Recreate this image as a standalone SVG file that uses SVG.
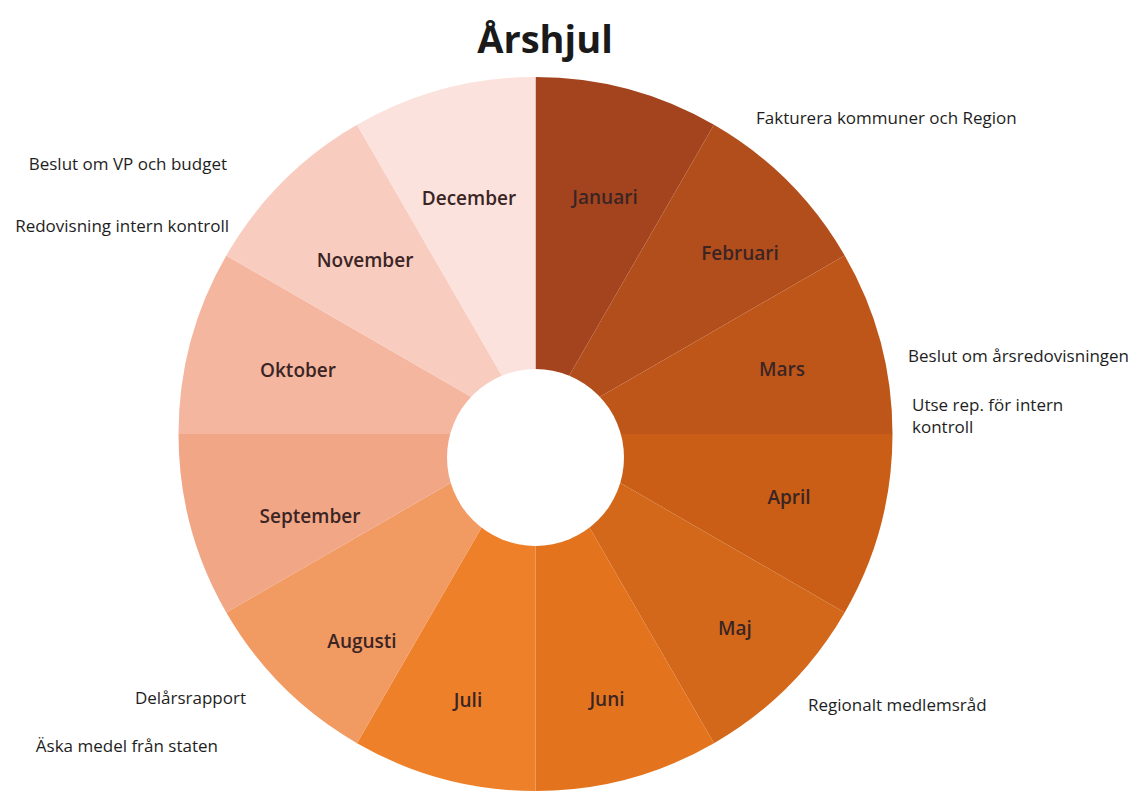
<svg xmlns="http://www.w3.org/2000/svg" width="1138" height="796" viewBox="0 0 1138 796">
<style>
.m{font-family:"Open Sans","Liberation Sans",sans-serif;font-weight:600;font-size:19px;fill:#3b2524;text-anchor:middle;dominant-baseline:central}
.n{font-family:"Open Sans","Liberation Sans",sans-serif;font-size:17px;fill:#1e1e1e;dominant-baseline:central}
.r{text-anchor:end}
.t{font-family:"Open Sans","Liberation Sans",sans-serif;font-weight:700;font-size:38px;fill:#1a1a1a;text-anchor:middle}
</style>
<rect width="1138" height="796" fill="#ffffff"/>
<text class="t" x="545" y="53">Årshjul</text>
<g id="wheel">
<g id="januari"><path d="M535.5 434 L535.5 77 A357 357 0 0 1 714 124.8 Z" fill="#A4441F"/><text class="m" x="605" y="197">Januari</text></g>
<g id="februari"><path d="M535.5 434 L714 124.8 A357 357 0 0 1 844.7 255.5 Z" fill="#B24D1C"/><text class="m" x="740" y="253">Februari</text></g>
<g id="mars"><path d="M535.5 434 L844.7 255.5 A357 357 0 0 1 892.5 434 Z" fill="#BF5619"/><text class="m" x="782" y="369">Mars</text></g>
<g id="april"><path d="M535.5 434 L892.5 434 A357 357 0 0 1 844.7 612.5 Z" fill="#CA5E16"/><text class="m" x="789" y="497">April</text></g>
<g id="maj"><path d="M535.5 434 L844.7 612.5 A357 357 0 0 1 714 743.2 Z" fill="#D3681B"/><text class="m" x="735" y="628">Maj</text></g>
<g id="juni"><path d="M535.5 434 L714 743.2 A357 357 0 0 1 535.5 791 Z" fill="#E3731D"/><text class="m" x="607" y="699">Juni</text></g>
<g id="juli"><path d="M535.5 434 L535.5 791 A357 357 0 0 1 357 743.2 Z" fill="#EE8029"/><text class="m" x="468" y="700">Juli</text></g>
<g id="augusti"><path d="M535.5 434 L357 743.2 A357 357 0 0 1 226.3 612.5 Z" fill="#F19A62"/><text class="m" x="362" y="641">Augusti</text></g>
<g id="september"><path d="M535.5 434 L226.3 612.5 A357 357 0 0 1 178.5 434 Z" fill="#F1A686"/><text class="m" x="310" y="516">September</text></g>
<g id="oktober"><path d="M535.5 434 L178.5 434 A357 357 0 0 1 226.3 255.5 Z" fill="#F5B69F"/><text class="m" x="298" y="370">Oktober</text></g>
<g id="november"><path d="M535.5 434 L226.3 255.5 A357 357 0 0 1 357 124.8 Z" fill="#F9CCC0"/><text class="m" x="365" y="260">November</text></g>
<g id="december"><path d="M535.5 434 L357 124.8 A357 357 0 0 1 535.5 77 Z" fill="#FCE2DC"/><text class="m" x="469" y="198">December</text></g>
<circle id="hole" cx="535.5" cy="457.5" r="88.5" fill="#ffffff"/>
</g>
<g id="notes">
<text class="n" x="756" y="117">Fakturera kommuner och Region</text>
<text class="n" x="908" y="355">Beslut om årsredovisningen</text>
<text class="n" x="912" y="404">Utse rep. för intern</text>
<text class="n" x="912" y="426">kontroll</text>
<text class="n r" x="227" y="163">Beslut om VP och budget</text>
<text class="n r" x="229" y="225">Redovisning intern kontroll</text>
<text class="n r" x="246" y="697">Delårsrapport</text>
<text class="n r" x="218" y="745">Äska medel från staten</text>
<text class="n" x="808" y="704">Regionalt medlemsråd</text>
</g>
</svg>
